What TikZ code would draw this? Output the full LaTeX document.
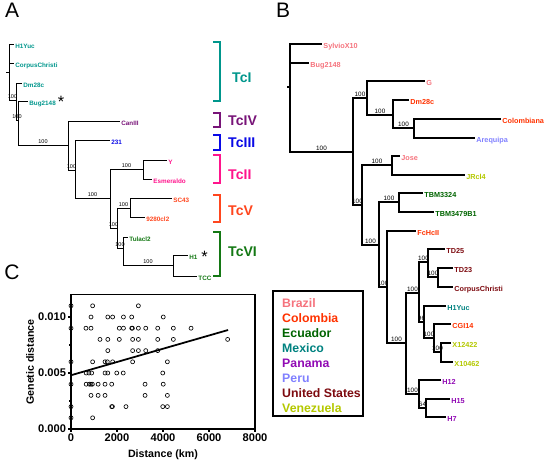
\documentclass[tikz,border=0pt]{standalone}
\usepackage{fontspec}
\setmainfont{Liberation Sans}

\definecolor{tcone}{RGB}{0,150,140}
\definecolor{tcfour}{RGB}{120,20,120}
\definecolor{tcthree}{RGB}{10,10,230}
\definecolor{tctwo}{RGB}{255,20,140}
\definecolor{tcfive}{RGB}{255,70,30}
\definecolor{tcsix}{RGB}{20,120,20}
\definecolor{brazil}{RGB}{245,115,125}
\definecolor{colombia}{RGB}{255,50,0}
\definecolor{ecuador}{RGB}{0,100,0}
\definecolor{mexico}{RGB}{0,130,128}
\definecolor{panama}{RGB}{145,10,180}
\definecolor{peru}{RGB}{128,128,255}
\definecolor{usa}{RGB}{125,10,15}
\definecolor{venezuela}{RGB}{180,200,0}

\tikzset{
  brancha/.style={line width=0.8pt},
  branchb/.style={line width=1.05pt},
  leafa/.style={anchor=west, inner sep=1pt, text height=0.72em, text depth=0pt,
    font=\fontsize{5.4}{6}\selectfont\bfseries},
  leafb/.style={leafa, font=\fontsize{6.2}{7}\selectfont\bfseries},
  boota/.style={pos=0.75, above, inner sep=0.7pt, font=\fontsize{4.7}{5}\selectfont},
  bootb/.style={boota, font=\fontsize{5.4}{6}\selectfont},
  clade/.style={anchor=west, inner sep=0pt, text height=0.72em, text depth=0pt,
    font=\fontsize{12}{14}\selectfont\bfseries},
  bracket/.style={line width=1.3pt},
  panel/.style={inner sep=0pt, text height=0.72em, text depth=0pt,
    font=\fontsize{17.9}{20}\selectfont},
  country/.style={anchor=west, inner sep=0pt, text height=0.72em, text depth=0pt,
    font=\fontsize{10.5}{12}\selectfont\bfseries},
  ticklbl/.style={inner sep=1.2pt, font=\fontsize{9.5}{11}\selectfont\bfseries},
  starmark/.style={inner sep=0pt, font=\fontsize{14}{14}\selectfont},
  dot/.style={line width=0.55pt}
}

\begin{document}
\begin{tikzpicture}[x=0.03cm,y=-0.03cm]
\useasboundingbox (0,0) rectangle (550,466);

% Panel letters
\node[panel] (lbl-a) at (12,13) {A};
\node[panel] (lbl-b) at (283,13) {B};
\node[panel] (lbl-c) at (12,275) {C};

% Tree A: inner nodes
\coordinate (a-base) at (6,72);
\coordinate (a-root) at (9,72);
\coordinate (a-n2) at (16,100);
\coordinate (a-n3) at (18,120);
\coordinate (a-n4) at (68,145);
\coordinate (a-n5) at (75,170);
\coordinate (a-n6) at (110,198);
\coordinate (a-n7) at (143,169);
\coordinate (a-n8) at (117,228);
\coordinate (a-n9) at (130,208);
\coordinate (a-n10) at (123,248);
\coordinate (a-n11) at (173,265);

% Tree A: leaves
\node[leafa, text=tcone] (a-h1yuc) at (14,44) {H1Yuc};
\node[leafa, text=tcone] (a-corpus) at (14,63) {CorpusChristi};
\node[leafa, text=tcone] (a-dm28c) at (22,83) {Dm28c};
\node[leafa, text=tcone] (a-bug) at (28,101) {Bug2148};
\node[leafa, text=tcfour] (a-caniii) at (120,121) {CanIII};
\node[leafa, text=tcthree] (a-231) at (110,140) {231};
\node[leafa, text=tctwo] (a-y) at (167,160) {Y};
\node[leafa, text=tctwo] (a-esm) at (152,179) {Esmeraldo};
\node[leafa, text=tcfive] (a-sc43) at (172,198) {SC43};
\node[leafa, text=tcfive] (a-9280) at (145,217) {9280cl2};
\node[leafa, text=tcsix] (a-tula) at (128,237) {Tulacl2};
\node[leafa, text=tcsix] (a-h1) at (188,255) {H1};
\node[leafa, text=tcsix] (a-tcc) at (197,276) {TCC};
\node[starmark] (a-star1) at (61,102) {*};
\node[starmark] (a-star2) at (204.5,257) {*};

% Tree A: branches
\draw[brancha] (a-base) -- (a-root);
\draw[brancha] (a-root) |- (a-h1yuc.west);
\draw[brancha] (a-root) |- (a-corpus.west);
\draw[brancha] (a-root) |- node[boota] {100} (a-n2);
\draw[brancha] (a-n2) |- (a-dm28c.west);
\draw[brancha] (a-n2) |- node[boota] {100} (a-n3);
\draw[brancha] (a-n3) |- (a-bug.west);
\draw[brancha] (a-n3) |- node[boota] {100} (a-n4);
\draw[brancha] (a-n4) |- (a-caniii.west);
\draw[brancha] (a-n4) |- node[boota] {100} (a-n5);
\draw[brancha] (a-n5) |- (a-231.west);
\draw[brancha] (a-n5) |- node[boota] {100} (a-n6);
\draw[brancha] (a-n6) |- node[boota] {100} (a-n7);
\draw[brancha] (a-n7) |- (a-y.west);
\draw[brancha] (a-n7) |- (a-esm.west);
\draw[brancha] (a-n6) |- node[boota] {100} (a-n8);
\draw[brancha] (a-n8) |- node[boota] {100} (a-n9);
\draw[brancha] (a-n9) |- (a-sc43.west);
\draw[brancha] (a-n9) |- (a-9280.west);
\draw[brancha] (a-n8) |- node[boota] {100} (a-n10);
\draw[brancha] (a-n10) |- (a-tula.west);
\draw[brancha] (a-n10) |- node[boota] {100} (a-n11);
\draw[brancha] (a-n11) |- (a-h1.west);
\draw[brancha] (a-n11) |- (a-tcc.west);

% Clade brackets
\draw[bracket, tcone] (213,42) -- (220,42) -- (220,101) -- (213,101);
\node[clade, text=tcone] (c-tci) at (232,78) {TcI};
\draw[bracket, tcfour] (213,113) -- (220,113) -- (220,127) -- (213,127);
\node[clade, text=tcfour] (c-tciv) at (228,121) {TcIV};
\draw[bracket, tcthree] (213,135) -- (220,135) -- (220,150) -- (213,150);
\node[clade, text=tcthree] (c-tciii) at (228,143) {TcIII};
\draw[bracket, tctwo] (213,155) -- (220,155) -- (220,183) -- (213,183);
\node[clade, text=tctwo] (c-tcii) at (228,175) {TcII};
\draw[bracket, tcfive] (213,195) -- (220,195) -- (220,222) -- (213,222);
\node[clade, text=tcfive] (c-tcv) at (228,211) {TcV};
\draw[bracket, tcsix] (213,232) -- (220,232) -- (220,276) -- (213,276);
\node[clade, text=tcsix] (c-tcvi) at (228,252) {TcVI};

% Tree B: inner nodes
\coordinate (b-base) at (287,87);
\coordinate (b-root) at (290,87);
\coordinate (b-n2) at (353,152);
\coordinate (b-n3) at (367,98);
\coordinate (b-n4) at (393,115);
\coordinate (b-n5) at (414,128);
\coordinate (b-n7) at (362,205);
\coordinate (b-n8) at (392,165);
\coordinate (b-n9) at (379,245);
\coordinate (b-n10) at (399,202);
\coordinate (b-n11) at (387,287);
\coordinate (b-n12) at (406,343);
\coordinate (b-n13) at (419,293);
\coordinate (b-n14) at (428,262);
\coordinate (b-n15) at (438,277);
\coordinate (b-n16) at (424,322);
\coordinate (b-n17) at (434,338);
\coordinate (b-n18) at (441,352);
\coordinate (b-n19) at (419,394);
\coordinate (b-n20) at (426,408);

% Tree B: leaves
\node[leafb, text=brazil] (b-sylvio) at (322,44) {SylvioX10};
\node[leafb, text=brazil] (b-bug) at (309,63) {Bug2148};
\node[leafb, text=brazil] (b-g) at (425,81) {G};
\node[leafb, text=colombia] (b-dm28c) at (409,100) {Dm28c};
\node[leafb, text=colombia] (b-colomb) at (501,119) {Colombiana};
\node[leafb, text=peru] (b-arequipa) at (475,138) {Arequipa};
\node[leafb, text=brazil] (b-jose) at (400,156) {Jose};
\node[leafb, text=venezuela] (b-jrcl4) at (465,175) {JRcl4};
\node[leafb, text=ecuador] (b-tbm1) at (423,193) {TBM3324};
\node[leafb, text=ecuador] (b-tbm2) at (434,212) {TBM3479B1};
\node[leafb, text=colombia] (b-fchcii) at (416,231) {FcHcII};
\node[leafb, text=usa] (b-td25) at (445,249) {TD25};
\node[leafb, text=usa] (b-td23) at (453,268) {TD23};
\node[leafb, text=usa] (b-corpus) at (453,287) {CorpusChristi};
\node[leafb, text=mexico] (b-h1yuc) at (446,306) {H1Yuc};
\node[leafb, text=colombia] (b-cgi14) at (451,324) {CGI14};
\node[leafb, text=venezuela] (b-x12422) at (451,343) {X12422};
\node[leafb, text=venezuela] (b-x10462) at (453,362) {X10462};
\node[leafb, text=panama] (b-h12) at (441,380) {H12};
\node[leafb, text=panama] (b-h15) at (450,399) {H15};
\node[leafb, text=panama] (b-h7) at (446,417) {H7};

% Tree B: branches
\draw[branchb] (b-base) -- (b-root);
\draw[branchb] (b-root) |- (b-sylvio.west);
\draw[branchb] (b-root) |- (b-bug.west);
\draw[branchb] (b-root) |- node[bootb] {100} (b-n2);
\draw[branchb] (b-n2) |- node[bootb] {100} (b-n3);
\draw[branchb] (b-n3) |- (b-g.west);
\draw[branchb] (b-n3) |- node[bootb] {100} (b-n4);
\draw[branchb] (b-n4) |- (b-dm28c.west);
\draw[branchb] (b-n4) |- node[bootb] {100} (b-n5);
\draw[branchb] (b-n5) |- (b-colomb.west);
\draw[branchb] (b-n5) |- (b-arequipa.west);
\draw[branchb] (b-n2) |- node[bootb] {100} (b-n7);
\draw[branchb] (b-n7) |- node[bootb] {100} (b-n8);
\draw[branchb] (b-n8) |- (b-jose.west);
\draw[branchb] (b-n8) |- (b-jrcl4.west);
\draw[branchb] (b-n7) |- node[bootb] {100} (b-n9);
\draw[branchb] (b-n9) |- node[bootb] {100} (b-n10);
\draw[branchb] (b-n10) |- (b-tbm1.west);
\draw[branchb] (b-n10) |- (b-tbm2.west);
\draw[branchb] (b-n9) |- node[bootb] {100} (b-n11);
\draw[branchb] (b-n11) |- (b-fchcii.west);
\draw[branchb] (b-n11) |- node[bootb] {100} (b-n12);
\draw[branchb] (b-n12) |- node[bootb] {100} (b-n13);
\draw[branchb] (b-n13) |- node[bootb] {100} (b-n14);
\draw[branchb] (b-n14) |- (b-td25.west);
\draw[branchb] (b-n14) |- node[bootb] {100} (b-n15);
\draw[branchb] (b-n15) |- (b-td23.west);
\draw[branchb] (b-n15) |- (b-corpus.west);
\draw[branchb] (b-n13) |- node[bootb] {96} (b-n16);
\draw[branchb] (b-n16) |- (b-h1yuc.west);
\draw[branchb] (b-n16) |- node[bootb] {100} (b-n17);
\draw[branchb] (b-n17) |- (b-cgi14.west);
\draw[branchb] (b-n17) |- node[bootb] {100} (b-n18);
\draw[branchb] (b-n18) |- (b-x12422.west);
\draw[branchb] (b-n18) |- (b-x10462.west);
\draw[branchb] (b-n12) |- node[bootb] {100} (b-n19);
\draw[branchb] (b-n19) |- (b-h12.west);
\draw[branchb] (b-n19) |- node[bootb] {64} (b-n20);
\draw[branchb] (b-n20) |- (b-h15.west);
\draw[branchb] (b-n20) |- (b-h7.west);

% Legend
\draw[line width=1.3pt] (273,291) rectangle (363,416);
\node[country, text=brazil] (k-brazil) at (282,303) {Brazil};
\node[country, text=colombia] (k-colombia) at (282,318) {Colombia};
\node[country, text=ecuador] (k-ecuador) at (282,333) {Ecuador};
\node[country, text=mexico] (k-mexico) at (282,348) {Mexico};
\node[country, text=panama] (k-panama) at (282,363) {Panama};
\node[country, text=peru] (k-peru) at (282,378) {Peru};
\node[country, text=usa] (k-usa) at (282,393) {United States};
\node[country, text=venezuela] (k-venezuela) at (282,408) {Venezuela};

% Scatter plot (x in 1000 km, y in 0.001)
\begin{scope}[shift={(71,429)}, x=0.69cm, y=0.336cm]
\draw[line width=1.2pt] (0,0) rectangle (8,12);
\foreach \t/\lbl in {0/0,2/2000,4/4000,6/6000,8/8000}
  \draw[line width=1.1pt] (\t,0) -- (\t,-0.27) node[below, ticklbl] {\lbl};
\foreach \v/\lbl in {0/0.000,5/0.005,10/0.010}
  \draw[line width=1.1pt] (0,\v) -- (-0.13,\v) node[left, ticklbl] {\lbl};
\foreach \v in {2.5,7.5}
  \draw[line width=1.1pt] (0,\v) -- (-0.08,\v);
\node[font=\fontsize{9.1}{11}\selectfont\bfseries] (x-title) at (4,-2.32) {Distance (km)};
\node[font=\fontsize{9.1}{11}\selectfont\bfseries, rotate=90] (y-title) at (-1.78,5.98) {Genetic distance};
\foreach \px/\py in {0/11,0.94/11,2.93/11,
  0.87/10,1.60/10,1.81/10,2.28/10,2.64/10,4.01/10,
  0/9,0.65/9,0.87/9,2.10/9,2.28/9,2.64/9,2.67/9,2.93/9,3.25/9,3.77/9,4.45/9,5.22/9,
  1.26/8,1.60/8,2.10/8,2.68/8,2.93/8,3.77/8,4.45/8,6.81/8,
  1.60/7,2.68/7,2.93/7,3.25/7,3.77/7,
  0/6,0.94/6,1.48/6,1.58/6,1.81/6,2.68/6,4.19/6,
  0.66/5,0.78/5,0.90/5,1.48/5,1.60/5,1.99/5,2.27/5,3.99/5,
  0/4,0.66/4,0.80/4,0.87/4,0.93/4,1.18/4,1.48/4,1.77/4,3.22/4,4.01/4,
  0.87/3,1.18/3,1.48/3,3.22/3,4.19/3,
  0/2,1.77/2,1.80/2,2.39/2,3.99/2,4.19/2,
  0/1,0.94/1}
  \draw[dot] (\px,\py) circle[radius=0.06cm];
\draw[line width=1.5pt] (0,4.8) -- (6.83,8.84);
\end{scope}

\end{tikzpicture}
\end{document}
